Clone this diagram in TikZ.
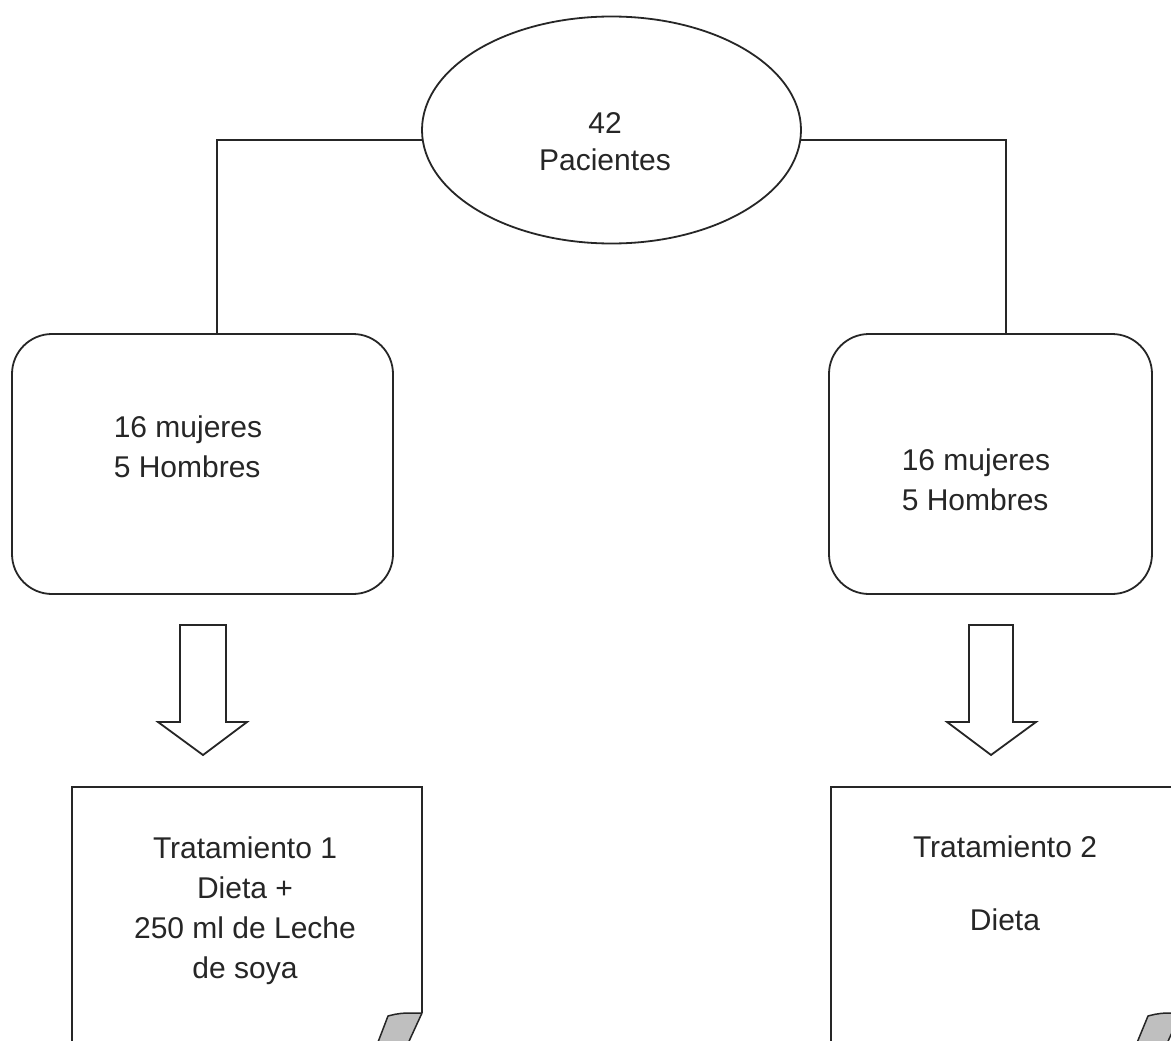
\documentclass[tikz,border=0pt]{standalone}
\usepackage{fontspec}
\setmainfont{Liberation Sans}
\usetikzlibrary{shapes.geometric}
\begin{document}
\begin{tikzpicture}[x=1pt,y=-1pt,
  every node/.style={inner sep=0pt,outer sep=0pt},
  ln/.style={line width=1.8pt,draw=black!85},
  txt/.style={font=\fontsize{30}{40}\selectfont,text=black!85},
  rbox/.style={ln,rectangle,rounded corners=40pt,minimum height=260pt},
  fold/.style={line width=1.5pt,draw=black!85,fill=black!25,line join=round},
  barrow/.style={ln,fill=white,line join=miter}]
\useasboundingbox (0,0) rectangle (1171,1041);
\fill[white] (0,0) rectangle (1171,1041);
\clip (0,0) rectangle (1171,1041);

% ellipse
\node[ln,ellipse,minimum width=379pt,minimum height=227pt] (e) at (611.5,130) {};
\node[txt,align=center] (et) at (605,141.5) {42\\[-3pt]Pacientes};

% boxes
\node[rbox,minimum width=381pt] (lb) at (202.5,464) {};
\node[rbox,minimum width=323pt] (rb) at (990.5,464) {};
\node[txt,align=left] (lt) at (188,447) {16 mujeres\\5 Hombres};
\node[txt,align=left] (rt) at (976,480) {16 mujeres\\5 Hombres};

% connectors
\coordinate (lc) at (217,140);
\coordinate (rc) at (1006,140);
\draw[ln] (e.183) -- (e.183 -| lc) -- (lb.north -| lc);
\draw[ln] (e.-3) -- (e.-3 -| rc) -- (rb.north -| rc);

% block arrows
\draw[barrow] (180,625) -- (226,625) -- (226,722) -- (247,722) -- (203,755)
  -- (158,722) -- (180,722) -- cycle;
\draw[barrow] (969,625) -- (1013,625) -- (1013,722) -- (1036,722) -- (991,755)
  -- (947,722) -- (969,722) -- cycle;

% notes
\draw[ln,line join=miter] (72,1050) -- (72,787) -- (422,787) -- (422,1013);
\draw[fold] (388,1016) .. controls (400,1013) .. (422,1013) -- (405,1050) -- (375,1050) -- cycle;
\draw[ln,line join=miter] (831,1050) -- (831,787) -- (1181,787) -- (1181,1013);
\draw[fold] (1148,1016) .. controls (1160,1013) .. (1181,1013) -- (1164,1050) -- (1134,1050) -- cycle;

\node[txt,align=center] (t1) at (245,911) {Tratamiento 1\\Dieta +\\250 ml de Leche\\de soya};
\node[txt,align=center] (t2) at (1005,883.5) {Tratamiento 2\\[33pt]Dieta};
\end{tikzpicture}
\end{document}
